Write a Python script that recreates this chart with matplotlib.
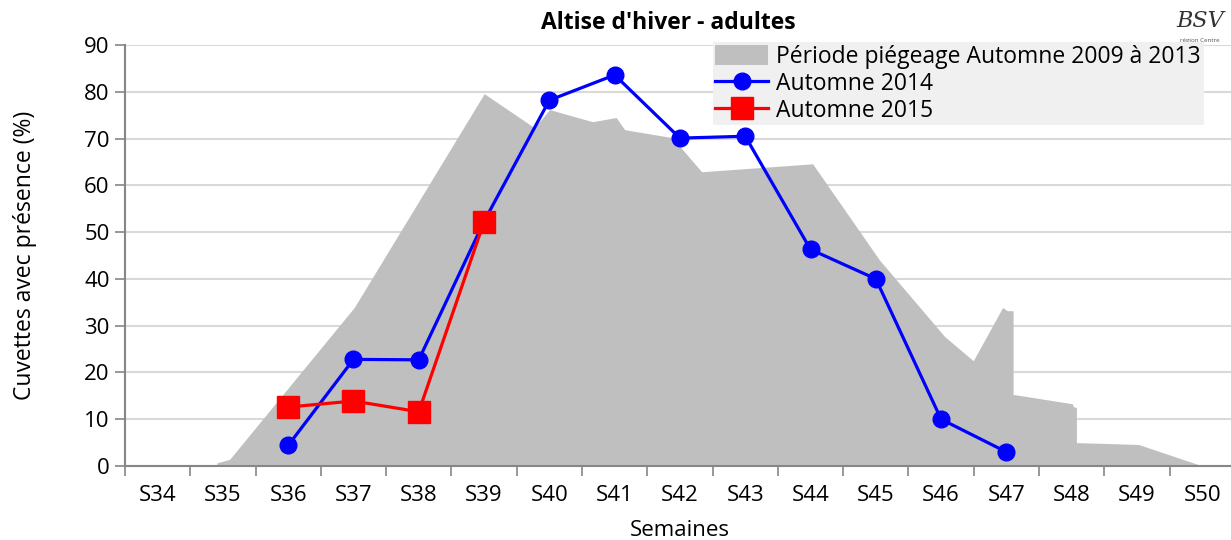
import matplotlib
matplotlib.use("Agg")
import matplotlib.pyplot as plt
from matplotlib.patches import Patch
from matplotlib.lines import Line2D

plt.rcParams['font.family'] = ['Open Sans', 'DejaVu Sans']

# semaines S34..S50
weeks = list(range(34, 51))
week_labels = ["S%d" % w for w in weeks]

# enveloppe grise : période de piégeage automne 2009 à 2013 (contour)
env_x = [34.91, 34.92, 35.11, 37.02, 39.01, 39.78, 40.01, 40.67, 41.03, 41.16,
         41.89, 42.34, 44.04, 45.06, 46.06, 46.50, 46.95, 47.02, 47.11, 47.11,
         48.02, 48.03, 48.08, 48.08, 49.03, 49.99]
env_y = [0, 0.6, 1.3, 33.8, 79.5, 72.2, 76.1, 73.5, 74.4, 71.8,
         70.1, 62.8, 64.5, 44.0, 27.6, 22.4, 33.8, 33.1, 33.1, 15.2,
         13.2, 12.6, 12.4, 4.9, 4.5, 0]

# Automne 2014
a2014_weeks = [36, 37, 38, 39, 40, 41, 42, 43, 44, 45, 46, 47]
a2014 = [4.4, 22.8, 22.7, 52.3, 78.2, 83.6, 70.1, 70.5, 46.3, 40.0, 10.0, 3.0]

# Automne 2015
a2015_weeks = [36, 37, 38, 39]
a2015 = [12.6, 13.9, 11.6, 52.2]

fig = plt.figure(figsize=(12.31, 5.40), dpi=100)
ax = fig.add_axes([0.1015, 0.137, 0.9017, 0.7796])

ax.fill(env_x, env_y, color='#bfbfbf', lw=0, zorder=1)
ax.plot(a2014_weeks, a2014, color='#0000ff', lw=2.3, marker='o', markersize=12, zorder=3)
ax.plot(a2015_weeks, a2015, color='#ff0000', lw=2.3, marker='s', markersize=15.5, zorder=4)

ax.set_xlim(33.5, 50.5)
ax.set_ylim(0, 90)
ax.set_yticks(range(0, 91, 10))
ax.set_xticks([w - 0.5 for w in weeks] + [50.5])
ax.set_xticklabels([])
ax.set_xticks(weeks, minor=True)
ax.set_xticklabels(week_labels, minor=True)
ax.tick_params(axis='x', which='major', length=7, width=1.2, color='#868686', direction='out')
ax.tick_params(axis='x', which='minor', length=0, pad=14, labelsize=16)
ax.tick_params(axis='y', length=7, width=1.2, color='#868686', labelsize=16, pad=4)

ax.set_axisbelow(True)
ax.grid(axis='y', color='#d9d9d9', lw=1.5)
for s in ['top', 'right']:
    ax.spines[s].set_visible(False)
for s in ['left', 'bottom']:
    ax.spines[s].set_color('#868686')
    ax.spines[s].set_linewidth(1.5)

ax.set_ylabel("Cuvettes avec présence (%)", fontsize=16.5, labelpad=34)
ax.set_xlabel("Semaines", fontsize=16, va='center')
ax.xaxis.set_label_coords(0.5, -0.152)
fig.text(0.543, 0.958, "Altise d'hiver - adultes", fontsize=16.5, fontweight='bold',
         ha='center', va='center')

handles = [Patch(facecolor='#bfbfbf', edgecolor='none'),
           Line2D([], [], color='#0000ff', lw=2.3, marker='o', markersize=12),
           Line2D([], [], color='#ff0000', lw=2.3, marker='s', markersize=15.5)]
labels = ["Période piégeage Automne 2009 à 2013", "Automne 2014", "Automne 2015"]
leg = fig.legend(handles, labels, loc='upper left', bbox_to_anchor=(0.579, 0.922),
                 fontsize=16.5, frameon=True, fancybox=False, borderpad=0.12,
                 handlelength=2.3, handletextpad=0.35, labelspacing=0.12,
                 borderaxespad=0, handleheight=1.0)
leg.get_frame().set_facecolor('#f0f0f0')
leg.get_frame().set_edgecolor('none')
leg.get_frame().set_alpha(1)

# petit logo BSV en haut à droite
fig.text(0.975, 0.962, "BSV", fontsize=16, style='italic', family='DejaVu Serif',
         color='#333333', ha='center', va='center')
fig.text(0.975, 0.925, "région Centre", fontsize=4.5, color='#555555', ha='center', va='center')

fig.savefig("out.png", dpi=100)
